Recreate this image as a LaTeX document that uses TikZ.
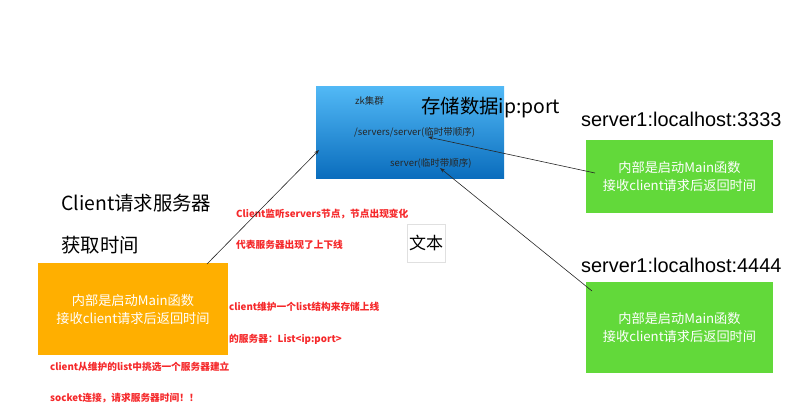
\documentclass[tikz,border=0pt]{standalone}
\usepackage{fontspec}
\setmainfont{Noto Sans CJK SC}
\newfontfamily\latinfont{Liberation Sans}
\usetikzlibrary{arrows.meta}
\definecolor{bluetop}{HTML}{52B9F6}
\definecolor{bluebot}{HTML}{0A6DBD}
\definecolor{boxgreen}{HTML}{62D93A}
\definecolor{boxorange}{HTML}{FFAF00}
\definecolor{notered}{HTML}{F5282A}
\tikzset{
  px/.style={x=1pt,y=-1pt},
  boxtext/.style={text=white,font=\fontsize{13.2}{18}\selectfont,align=center,inner sep=0pt},
  bigtext/.style={anchor=west,inner sep=0pt,font=\fontsize{19.4}{21}\selectfont},
  hosttext/.style={anchor=west,inner sep=0pt,font=\latinfont\fontsize{19.9}{21}\selectfont},
  smalltext/.style={anchor=west,inner sep=0pt,font=\fontsize{9.5}{11}\selectfont,text=black!85},
  rednote/.style={anchor=west,inner sep=0pt,font=\bfseries\fontsize{9.7}{11}\selectfont,text=notered},
  conn/.style={draw=black!85,line width=0.6pt,-{Stealth[length=5pt,width=3.5pt]}},
}
\begin{document}
\begin{tikzpicture}[px]
\useasboundingbox (0,0) rectangle (795,410);
% blue zk box
\shade[top color=bluetop,bottom color=bluebot] (316,86) rectangle (504,178);
\coordinate (zkleft) at (319,150);
\node[smalltext] (zk) at (355,101) {zk集群};
\node[smalltext] (srvpath) at (354,132) {/servers/server(临时带顺序)};
\node[smalltext] (srvnode) at (390,163) {server(临时带顺序)};
\node[bigtext] (store) at (421,108) {存储数据ip:port};
% server boxes
\node[hosttext] (host1) at (581,119) {server1:localhost:3333};
\node[fill=boxgreen,minimum width=187pt,minimum height=73pt,inner sep=0pt] (s1) at (679.5,176.5) {};
\node[boxtext] (s1t) at (s1.center) {内部是启动Main函数\\接收client请求后返回时间};
\node[hosttext] (host2) at (581,265) {server1:localhost:4444};
\node[fill=boxgreen,minimum width=187pt,minimum height=91pt,inner sep=0pt] (s2) at (679.5,327.5) {};
\node[boxtext] (s2t) at (s2.center) {内部是启动Main函数\\接收client请求后返回时间};
% client
\node[bigtext] (clientq) at (61,203) {Client请求服务器};
\node[bigtext] (gettime) at (61,245) {获取时间};
\node[fill=boxorange,minimum width=190pt,minimum height=92pt,inner sep=0pt] (cl) at (133,309) {};
\node[boxtext] (clt) at (cl.center) {内部是启动Main函数\\接收client请求后返回时间};
% text box
\node[draw=black!12,line width=0.5pt,minimum width=38pt,minimum height=38pt,inner sep=0pt,font=\fontsize{17}{19}\selectfont] (wb) at (426,243) {文本};
% red notes
\node[rednote] (n1) at (236,214) {Client监听servers节点，节点出现变化};
\node[rednote] (n2) at (236,245) {代表服务器出现了上下线};
\node[rednote] (n3) at (229,307) {client维护一个list结构来存储上线};
\node[rednote] (n4) at (229,339) {的服务器：List<ip:port>};
\node[rednote] (n5) at (50,367) {client从维护的list中挑选一个服务器建立};
\node[rednote] (n6) at (50,398) {socket连接，请求服务器时间！！};
% connectors
\coordinate (clTop) at (207,264);
\coordinate (s1In) at (595,173);
\coordinate (s2In) at (592,291);
\coordinate (pathIn) at (428,137);
\coordinate (nodeIn) at (440,168);
\draw[conn] (clTop) -- (zkleft);
\draw[conn] (s1In) -- (pathIn);
\draw[conn] (s2In) -- (nodeIn);
\end{tikzpicture}
\end{document}
